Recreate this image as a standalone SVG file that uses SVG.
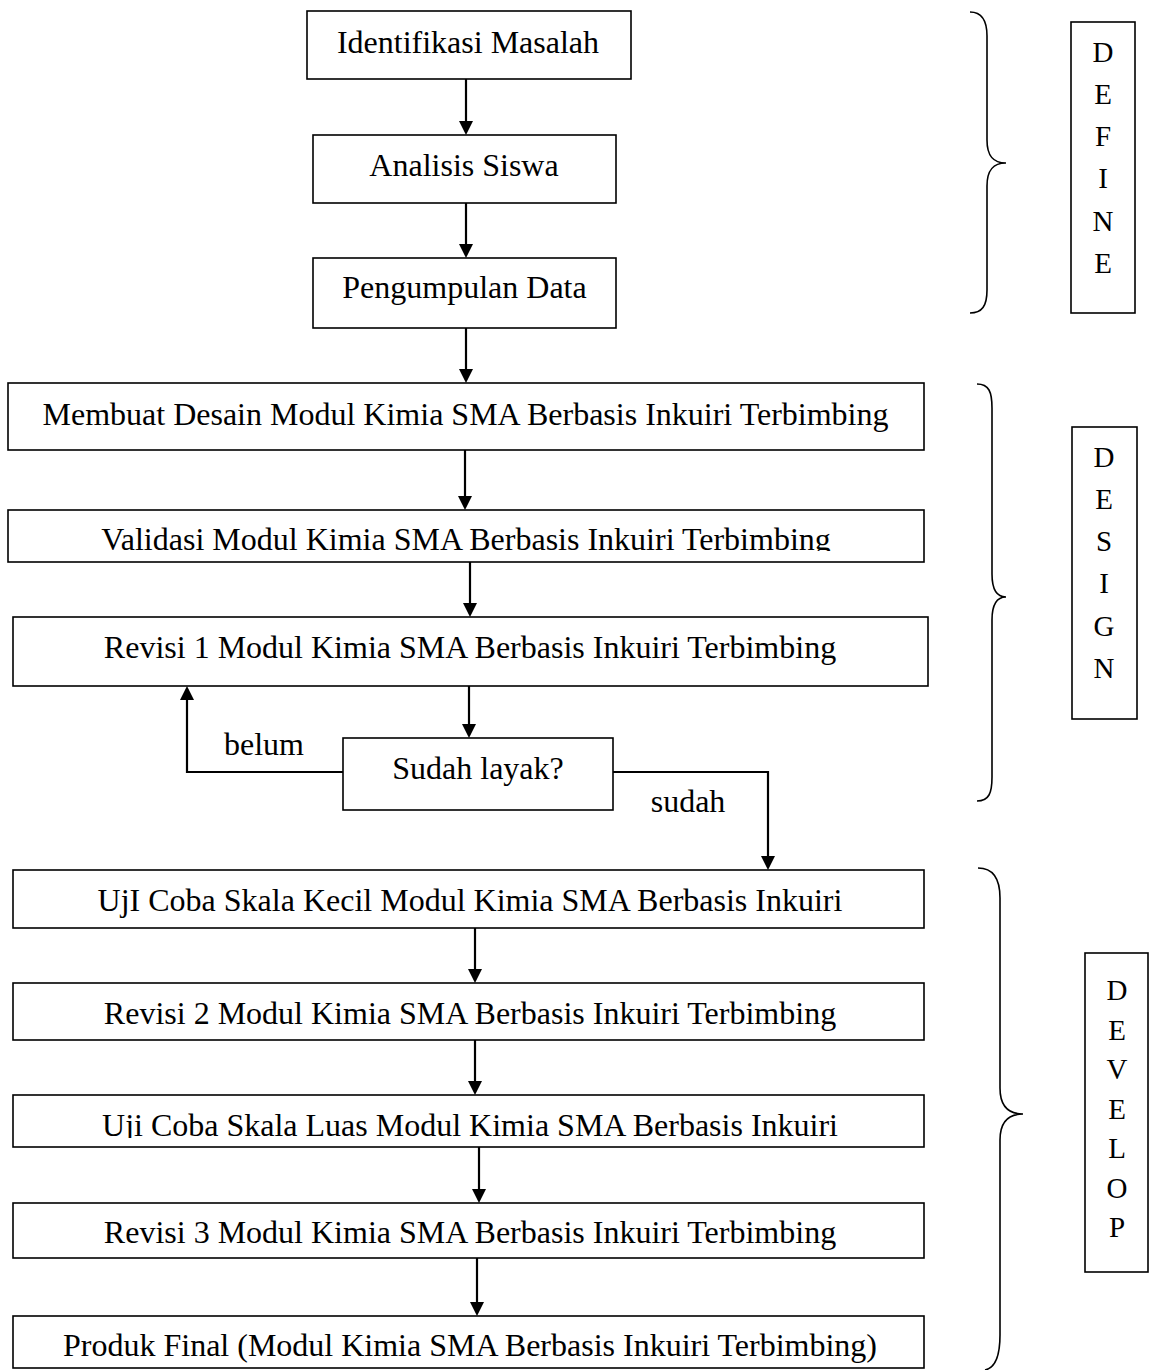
<svg xmlns="http://www.w3.org/2000/svg" width="1149" height="1370" viewBox="0 0 1149 1370">
<style>
.box{fill:#fff;stroke:#000;stroke-width:1.6}
.t{font-family:"Liberation Serif","Times New Roman",serif;font-size:32px;fill:#000;text-anchor:middle}
.l{font-family:"Liberation Serif","Times New Roman",serif;font-size:29px;fill:#000;text-anchor:middle}
.c{fill:none;stroke:#000;stroke-width:2.2}
.br{fill:none;stroke:#000;stroke-width:1.6}
</style>
<defs>
<marker id="ah" markerUnits="userSpaceOnUse" markerWidth="16" markerHeight="16" refX="11" refY="7" orient="auto">
<path d="M0,0 L14,7 L0,14 z" fill="#000"/>
</marker>
<clipPath id="clipVal"><rect x="0" y="500" width="1149" height="51"/></clipPath>
<clipPath id="clipLuas"><rect x="0" y="1090" width="1149" height="48"/></clipPath>
</defs>
<rect width="1149" height="1370" fill="#fff"/>

<g id="n-identifikasi"><rect class="box" x="307" y="11" width="324" height="68"/><text class="t" x="468" y="53">Identifikasi Masalah</text></g>
<g id="n-analisis"><rect class="box" x="313" y="135" width="303" height="68"/><text class="t" x="464" y="176">Analisis Siswa</text></g>
<g id="n-pengumpulan"><rect class="box" x="313" y="258" width="303" height="70"/><text class="t" x="464.5" y="298">Pengumpulan Data</text></g>
<g id="n-membuat"><rect class="box" x="8" y="383" width="916" height="67"/><text class="t" x="465.5" y="425">Membuat Desain Modul Kimia SMA Berbasis Inkuiri Terbimbing</text></g>
<g id="n-validasi"><rect class="box" x="8" y="510" width="916" height="52"/><text class="t" x="466" y="550" clip-path="url(#clipVal)">Validasi Modul Kimia SMA Berbasis Inkuiri Terbimbing</text></g>
<g id="n-revisi1"><rect class="box" x="13" y="617" width="915" height="69"/><text class="t" x="470" y="658">Revisi 1 Modul Kimia SMA Berbasis Inkuiri Terbimbing</text></g>
<g id="n-sudahlayak"><rect class="box" x="343" y="738" width="270" height="72"/><text class="t" x="478" y="779">Sudah layak?</text></g>
<g id="n-ujikecil"><rect class="box" x="13" y="870" width="911" height="58"/><text class="t" x="470" y="911">UjI Coba Skala Kecil Modul Kimia SMA Berbasis Inkuiri</text></g>
<g id="n-revisi2"><rect class="box" x="13" y="983" width="911" height="57"/><text class="t" x="470" y="1024">Revisi 2 Modul Kimia SMA Berbasis Inkuiri Terbimbing</text></g>
<g id="n-ujiluas"><rect class="box" x="13" y="1095" width="911" height="52"/><text class="t" x="470" y="1136" clip-path="url(#clipLuas)">Uji Coba Skala Luas Modul Kimia SMA Berbasis Inkuiri</text></g>
<g id="n-revisi3"><rect class="box" x="13" y="1203" width="911" height="55"/><text class="t" x="470" y="1243">Revisi 3 Modul Kimia SMA Berbasis Inkuiri Terbimbing</text></g>
<g id="n-produk"><rect class="box" x="13" y="1316" width="911" height="52"/><text class="t" x="470" y="1356">Produk Final (Modul Kimia SMA Berbasis Inkuiri Terbimbing)</text></g>

<g id="connectors">
<line class="c" x1="466" y1="79" x2="466" y2="132" marker-end="url(#ah)"/>
<line class="c" x1="466" y1="203" x2="466" y2="255" marker-end="url(#ah)"/>
<line class="c" x1="466" y1="328" x2="466" y2="380" marker-end="url(#ah)"/>
<line class="c" x1="465" y1="450" x2="465" y2="507" marker-end="url(#ah)"/>
<line class="c" x1="470" y1="562" x2="470" y2="614" marker-end="url(#ah)"/>
<line class="c" x1="469" y1="686" x2="469" y2="735" marker-end="url(#ah)"/>
<polyline class="c" points="343,772 187,772 187,689" marker-end="url(#ah)"/>
<polyline class="c" points="613,772 768,772 768,867" marker-end="url(#ah)"/>
<line class="c" x1="475" y1="928" x2="475" y2="980" marker-end="url(#ah)"/>
<line class="c" x1="475" y1="1040" x2="475" y2="1092" marker-end="url(#ah)"/>
<line class="c" x1="479" y1="1147" x2="479" y2="1200" marker-end="url(#ah)"/>
<line class="c" x1="477" y1="1258" x2="477" y2="1313" marker-end="url(#ah)"/>
<text class="t" x="264" y="755">belum</text>
<text class="t" x="688" y="812">sudah</text>
</g>

<g id="phase-define">
<path class="br" d="M970,12 C982,12 987,20 987,36 L987,140 C987,156 993,163 1006,163 C993,163 987,170 987,186 L987,290 C987,306 982,313 970,313"/>
<rect class="box" x="1071" y="22" width="64" height="291"/>
<text class="l" x="1103" y="62">D</text>
<text class="l" x="1103" y="104">E</text>
<text class="l" x="1103" y="146">F</text>
<text class="l" x="1103" y="188">I</text>
<text class="l" x="1103" y="231">N</text>
<text class="l" x="1103" y="273">E</text>
</g>

<g id="phase-design">
<path class="br" d="M977,384 C989,384 992,392 992,408 L992,574 C992,590 997,597 1006,597 C997,597 992,604 992,620 L992,777 C992,793 989,801 977,801"/>
<rect class="box" x="1072" y="427" width="65" height="292"/>
<text class="l" x="1104" y="467">D</text>
<text class="l" x="1104" y="509">E</text>
<text class="l" x="1104" y="551">S</text>
<text class="l" x="1104" y="593">I</text>
<text class="l" x="1104" y="636">G</text>
<text class="l" x="1104" y="678">N</text>
</g>

<g id="phase-develop">
<path class="br" d="M978,868 C993,868 1000,878 1000,898 L1000,1088 C1000,1106 1008,1114 1023,1114 C1008,1114 1000,1122 1000,1140 L1000,1335 C1000,1355 995,1368 985,1370"/>
<rect class="box" x="1085" y="953" width="63" height="319"/>
<text class="l" x="1117" y="1000">D</text>
<text class="l" x="1117" y="1040">E</text>
<text class="l" x="1117" y="1079">V</text>
<text class="l" x="1117" y="1119">E</text>
<text class="l" x="1117" y="1158">L</text>
<text class="l" x="1117" y="1198">O</text>
<text class="l" x="1117" y="1237">P</text>
</g>
</svg>
